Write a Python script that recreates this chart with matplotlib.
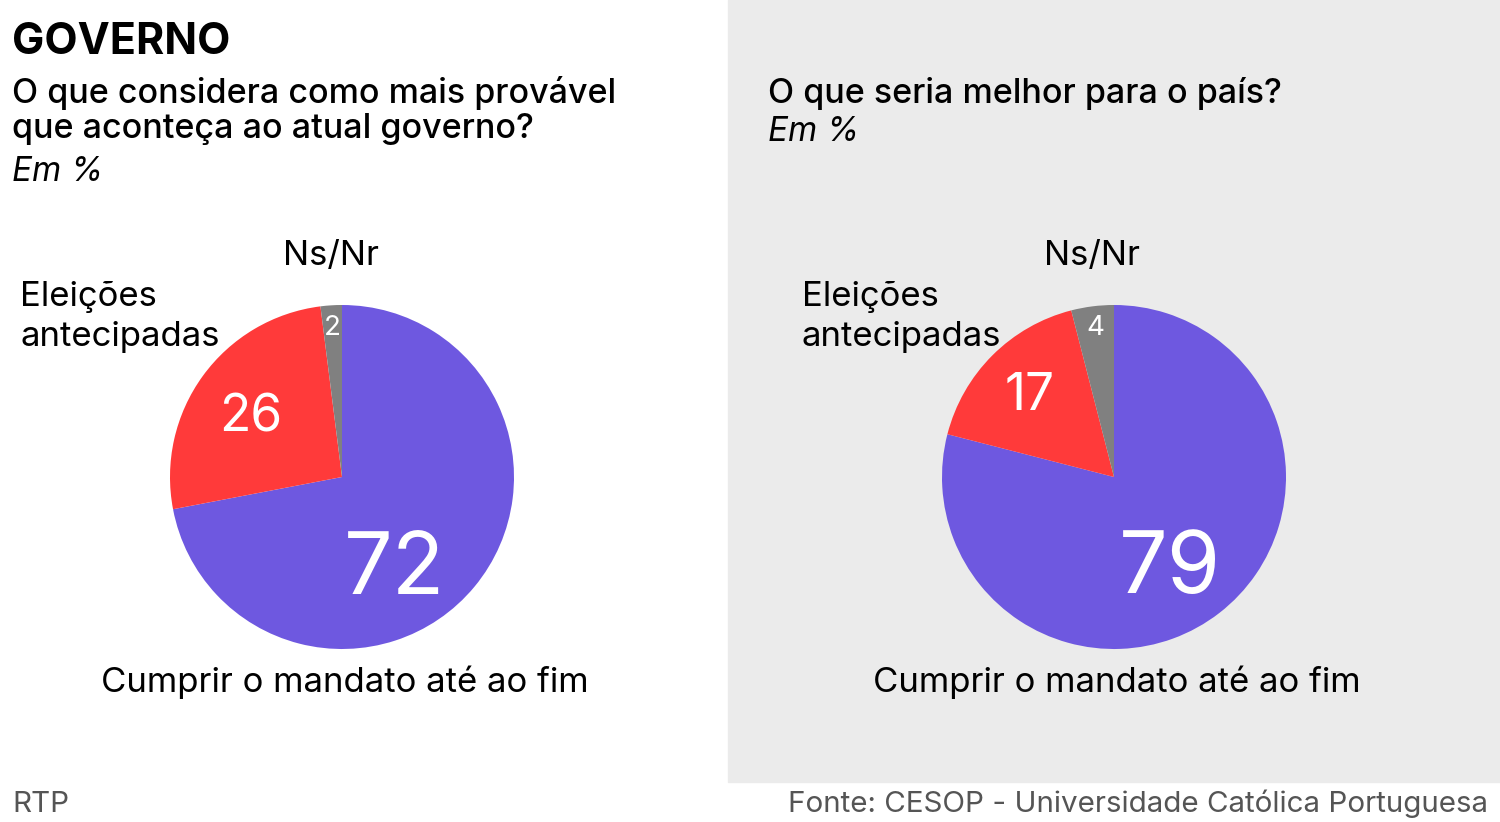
import matplotlib.pyplot as plt
from matplotlib.patches import Rectangle

plt.rcParams['font.family'] = ['Inter', 'DejaVu Sans']

values_left = [72, 26, 2]
values_right = [79, 17, 4]
colors = ['#6E58E0', '#FF3A3A', '#808080']

W, H = 1500, 822
fig = plt.figure(figsize=(15, 8.22), dpi=100)
fig.patches.append(Rectangle((728 / W, 1 - 782 / H), 772 / W, 782 / H,
                             transform=fig.transFigure, color='#EBEBEB', zorder=-5))


def t(x, y, s, **kw):
    fig.text(x / W, 1 - (y + 3) / H, s, **kw)


def pie(cx, cy, vals):
    r = 172
    ax = fig.add_axes([(cx - r) / W, 1 - (cy + r) / H, 2 * r / W, 2 * r / H])
    ax.pie(vals, colors=colors, startangle=90, counterclock=False, radius=1)
    ax.set_xlim(-1, 1)
    ax.set_ylim(-1, 1)
    ax.axis('off')
    ax.patch.set_visible(False)


pie(342, 477, values_left)
pie(1114, 477, values_right)

t(12, 40, 'GOVERNO', fontsize=31, fontweight='bold', va='center')
sub = dict(fontsize=24.5, fontweight='medium', va='center')
t(12, 90, 'O que considera como mais provável', **sub)
t(12, 126, 'que aconteça ao atual governo?', **sub)
t(12, 169, 'Em %', fontsize=24, style='italic', va='center')
t(768, 90, 'O que seria melhor para o país?', **sub)
t(768, 129, 'Em %', fontsize=24, style='italic', va='center')

lab = dict(fontsize=25, va='center')
for ox, vals, pos in [(0, values_left, [(395, 568, 62), (251, 415, 37), (332, 325, 20)]),
                      (772, values_right, [(1170, 568, 62), (1030, 393, 37), (1095, 325, 20)])]:
    cx = 342 + ox
    t(331 + ox - (11 if ox else 0), 253, 'Ns/Nr', ha='center', **lab)
    t(20 + ox + (10 if ox else 0), 294, 'Eleições', **lab)
    t(20 + ox + (10 if ox else 0), 334, 'antecipadas', **lab)
    t(cx + 3, 679, 'Cumprir o mandato até ao fim', ha='center', **lab)
    for v, (x, y, fs) in zip(vals, pos):
        t(x, y, str(v), fontsize=fs, color='white', ha='center', va='center')

t(12, 801, 'RTP', fontsize=21.3, color='#555555', va='center')
t(1488, 801, 'Fonte: CESOP - Universidade Católica Portuguesa', fontsize=21.3,
  color='#555555', ha='right', va='center')

fig.savefig('out.png', dpi=100)
